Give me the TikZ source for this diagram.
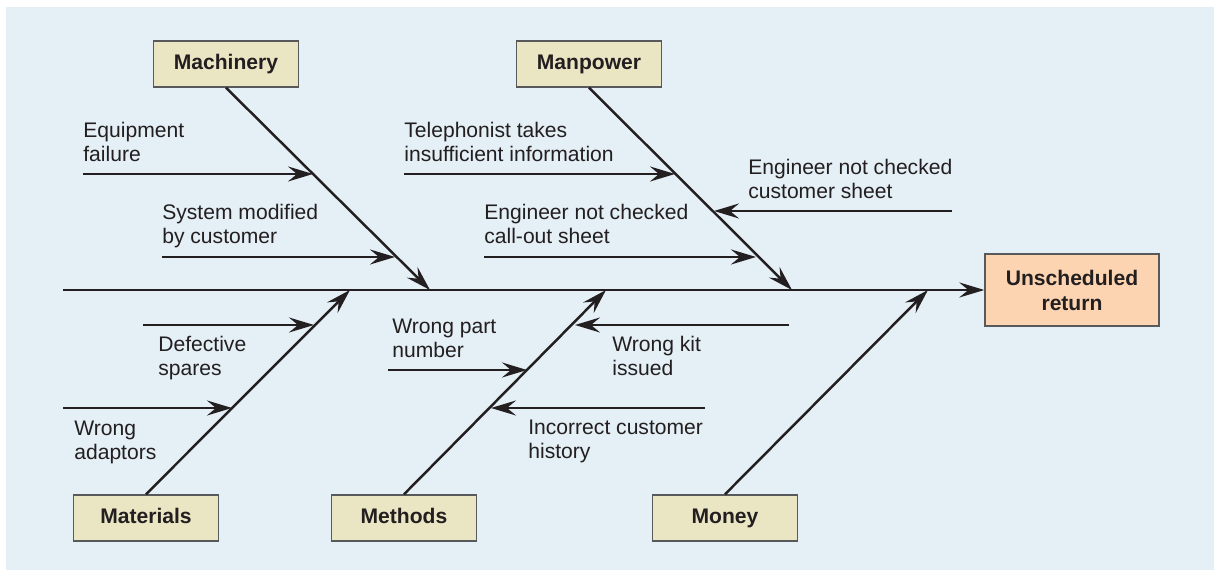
\documentclass[tikz,border=0pt]{standalone}
\usepackage{fontspec}
\setmainfont{Liberation Sans}
\usetikzlibrary{arrows.meta,positioning}
\definecolor{bgblue}{HTML}{E4EFF6}
\definecolor{causefill}{HTML}{EAE5C3}
\definecolor{effectfill}{HTML}{FDD4B1}
\definecolor{boxline}{HTML}{58595B}
\definecolor{ink}{HTML}{231F20}
\newcommand{\diagfont}{\fontsize{12}{14.2}\selectfont}
\tikzset{
  cause/.style={draw=boxline,fill=causefill,line width=0.8pt,minimum width=2.9cm,
    minimum height=0.92cm,inner sep=0pt,text height=8.6pt,text depth=2.6pt,
    font=\diagfont\bfseries,text=ink},
  effect/.style={draw=boxline,fill=effectfill,line width=0.8pt,minimum width=3.48cm,
    minimum height=1.44cm,inner sep=0pt,align=center,font=\diagfont\bfseries,text=ink},
  bone/.style={draw=ink,line width=1.4pt,-{Stealth[length=5mm,width=3mm,inset=1.8mm]}},
  twig/.style={bone},
  lbl/.style={anchor=base west,align=left,inner sep=0pt,text=ink,font=\diagfont},
}

\begin{document}
\begin{tikzpicture}[x=0.02cm,y=-0.02cm,font=\diagfont]
  \useasboundingbox (0,0) rectangle (1214,570);
  \fill[bgblue] (6,7) rectangle (1214,570);
  % cause and effect boxes
  \node[cause] (mach) at (226,64) {Machinery};
  \node[cause] (manp) at (589,64) {Manpower};
  \node[cause] (mat) at (146,518) {Materials};
  \node[cause] (meth) at (404,518) {Methods};
  \node[cause] (money) at (725,518) {Money};
  \node[effect] (ret) at (1072,290) {Unscheduled\\return};
  % spine and main bones
  \coordinate (tail) at (63,290);
  \coordinate (machend) at (430,290);
  \coordinate (manpend) at (792,290);
  \coordinate (matend) at (350,290);
  \coordinate (methend) at (606,290);
  \coordinate (moneyend) at (928,290);
  \draw[bone] (tail) -- (ret.west);
  \draw[bone] (mach.south) -- (machend);
  \draw[bone] (manp.south) -- (manpend);
  \draw[bone] (mat.north) -- (matend);
  \draw[bone] (meth.north) -- (methend);
  \draw[bone] (money.north) -- (moneyend);
  % machinery
  \coordinate (s1) at (83,174);  \coordinate (e1) at (313,174);
  \coordinate (s2) at (162,257); \coordinate (e2) at (395,257);
  \draw[twig] (s1) -- (e1);
  \draw[twig] (s2) -- (e2);
  \node[lbl] (l1) at (83,162) {Equipment\\failure};
  \node[lbl] (l2) at (162,244) {System modified\\by customer};
  % manpower
  \coordinate (s3) at (404,174); \coordinate (e3) at (675,174);
  \coordinate (s4) at (484,257); \coordinate (e4) at (756,257);
  \coordinate (s5) at (952,211); \coordinate (e5) at (714,211);
  \draw[twig] (s3) -- (e3);
  \draw[twig] (s4) -- (e4);
  \draw[twig] (s5) -- (e5);
  \node[lbl] (l3) at (404,162) {Telephonist takes\\insufficient information};
  \node[lbl] (l4) at (484,244) {Engineer not checked\\call-out sheet};
  \node[lbl] (l5) at (748,199) {Engineer not checked\\customer sheet};
  % materials
  \coordinate (s6) at (143,325); \coordinate (e6) at (314,325);
  \coordinate (s7) at (63,408);  \coordinate (e7) at (232,408);
  \draw[twig] (s6) -- (e6);
  \draw[twig] (s7) -- (e7);
  \node[lbl] (l6) at (158,376) {Defective\\spares};
  \node[lbl] (l7) at (74,460) {Wrong\\adaptors};
  % methods
  \coordinate (s8) at (388,370);  \coordinate (e8) at (527,370);
  \coordinate (s9) at (789,325);  \coordinate (e9) at (575,325);
  \coordinate (s10) at (705,408); \coordinate (e10) at (491,408);
  \draw[twig] (s8) -- (e8);
  \draw[twig] (s9) -- (e9);
  \draw[twig] (s10) -- (e10);
  \node[lbl] (l8) at (392,358) {Wrong part\\number};
  \node[lbl] (l9) at (612,376) {Wrong kit\\issued};
  \node[lbl] (l10) at (528,459) {Incorrect customer\\history};
\end{tikzpicture}
\end{document}
